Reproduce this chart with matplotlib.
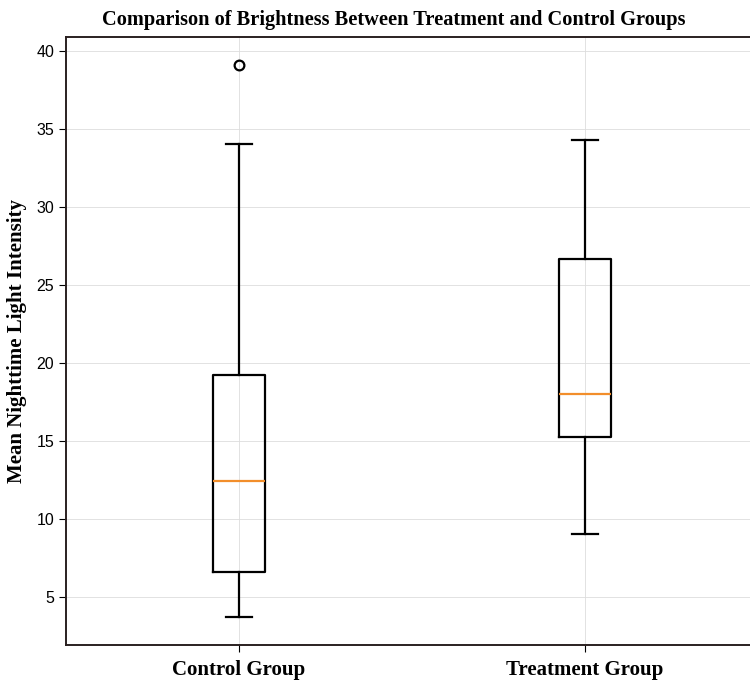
import matplotlib
matplotlib.use("Agg")
from matplotlib import pyplot as plt

# five-number summaries
groups = ["Control Group", "Treatment Group"]
whislo = [3.75, 9.03]
q1 = [6.6, 15.25]
med = [12.42, 18.0]
q3 = [19.2, 26.68]
whishi = [34.0, 34.27]
fliers = [[39.1], []]

stats = []
for i in range(len(groups)):
    stats.append({"label": groups[i], "whislo": whislo[i], "q1": q1[i],
                  "med": med[i], "q3": q3[i], "whishi": whishi[i],
                  "fliers": fliers[i]})

fig = plt.figure(figsize=(7.5, 6.84), dpi=100)
ax = fig.add_axes([66 / 750, 1 - 645 / 684, 692 / 750, 608 / 684])

lw = 1.6
ax.bxp(stats, positions=[1, 2],
       boxprops=dict(color="black", linewidth=lw),
       whiskerprops=dict(color="black", linewidth=lw),
       capprops=dict(color="black", linewidth=lw),
       medianprops=dict(color="#f28e2b", linewidth=1.6),
       flierprops=dict(marker="o", markerfacecolor="none", markeredgecolor="black",
                       markersize=7, markeredgewidth=1.6))

ax.grid(True, color="#dddddd", linewidth=0.6)
ax.set_axisbelow(True)
ax.set_xlim(0.5, 2.5)
ax.set_ylim(1.93, 40.87)
ax.set_yticks([5, 10, 15, 20, 25, 30, 35, 40])

for s in ax.spines.values():
    s.set_linewidth(1.4)
    s.set_color("#2a2020")

# the original figure was cropped on the right, so the title sits left of the axes centre
ax.set_title("Comparison of Brightness Between Treatment and Control Groups",
             fontfamily="Liberation Serif", fontweight="bold", fontsize=14.7,
             pad=9, x=0.474)
ax.set_ylabel("Mean Nighttime Light Intensity", fontfamily="Liberation Serif",
              fontweight="bold", fontsize=15, labelpad=7)
ax.set_xticks([1, 2])
ax.set_xticklabels(groups, fontfamily="Liberation Serif", fontweight="bold", fontsize=15)
for t in ax.get_yticklabels():
    t.set_fontfamily("Liberation Sans")
    t.set_fontsize(11.5)
ax.tick_params(axis="x", pad=6, length=5)
ax.tick_params(axis="y", length=5)

fig.savefig("out.png", dpi=100)
